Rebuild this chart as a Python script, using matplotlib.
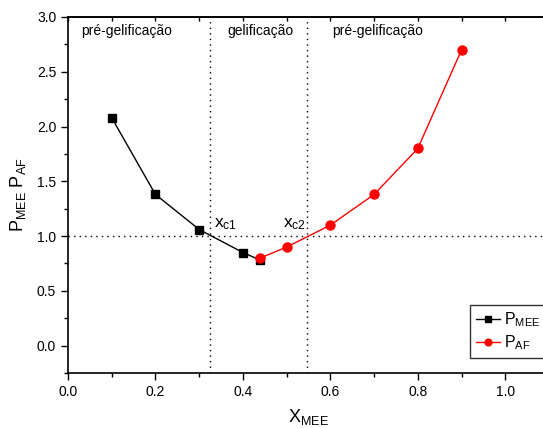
import matplotlib
matplotlib.use("Agg")
import matplotlib.pyplot as plt
from matplotlib.ticker import MultipleLocator, NullFormatter

plt.rcParams['font.family'] = ['Liberation Sans', 'DejaVu Sans']
plt.rcParams['mathtext.fontset'] = 'custom'
plt.rcParams['mathtext.rm'] = 'Liberation Sans'
plt.rcParams['mathtext.it'] = 'Liberation Sans'

x_mee = [0.1, 0.2, 0.3, 0.4, 0.44]
p_mee = [2.08, 1.38, 1.06, 0.85, 0.78]
x_af = [0.44, 0.5, 0.6, 0.7, 0.8, 0.9]
p_af = [0.80, 0.90, 1.10, 1.38, 1.80, 2.70]
xc1 = 0.324
xc2 = 0.547
regions = ["pré-gelificação", "gelificação", "pré-gelificação"]
region_x = [0.03, 0.325 + 0.04, 0.605]

fig = plt.figure(figsize=(5.43, 4.28), dpi=100)
ax = fig.add_axes([68/543, 1-373/428, (549-68)/543, (373-17)/428])

ax.plot(x_mee, p_mee, '-s', color='black', lw=1, ms=6, label=r'P$_{\mathregular{MEE}}$', zorder=3)
ax.plot(x_af, p_af, '-o', color='red', lw=1, ms=6.5, label=r'P$_{\mathregular{AF}}$', zorder=4)

ax.axvline(xc1, color='black', ls=(0, (1, 3)), lw=1)
ax.axvline(xc2, color='black', ls=(0, (1, 3)), lw=1)
ax.axhline(1.0, color='black', ls=(0, (1, 3)), lw=1)

for rx, t in zip(region_x, regions):
    ax.text(rx, 2.87, t, fontsize=10, ha='left', va='center')

ax.text(xc1 + 0.01, 1.04, r'x$_{\mathregular{c1}}$', fontsize=12.5, ha='left', va='bottom')
ax.text(xc2 - 0.055, 1.04, r'x$_{\mathregular{c2}}$', fontsize=12.5, ha='left', va='bottom')

ax.set_xlim(0, 1.1)
ax.set_ylim(-0.25, 3.0)
ax.xaxis.set_major_locator(MultipleLocator(0.2))
ax.xaxis.set_minor_locator(MultipleLocator(0.1))
ax.yaxis.set_major_locator(MultipleLocator(0.5))
ax.yaxis.set_minor_locator(MultipleLocator(0.25))
ax.tick_params(axis='both', which='major', direction='out', length=5, width=1, labelsize=10)
ax.tick_params(axis='both', which='minor', direction='out', length=3, width=1)
ax.spines['right'].set_visible(False)
for s in ax.spines.values():
    s.set_linewidth(1.2)

top = ax.secondary_xaxis('top')
top.xaxis.set_major_locator(MultipleLocator(0.1))
top.xaxis.set_major_formatter(NullFormatter())
top.tick_params(axis='x', which='major', direction='in', length=3, width=1)
top.tick_params(axis='x', which='minor', length=0)
top.spines['top'].set_linewidth(1.2)

ax.set_xlabel(r'X$_{\mathregular{MEE}}$', fontsize=13, labelpad=6)
ax.set_ylabel(r'P$_{\mathregular{MEE}}$ P$_{\mathregular{AF}}$', fontsize=13, labelpad=6)

leg = ax.legend(loc='lower left', bbox_to_anchor=((470-68)/481, (373-358)/356), fontsize=11.5,
                frameon=True, fancybox=False, edgecolor='black', handlelength=1.5,
                borderpad=0.35, handletextpad=0.25, labelspacing=0.3, borderaxespad=0,
                markerscale=0.75)
leg.get_frame().set_linewidth(1)

fig.savefig('out.png', dpi=100)
